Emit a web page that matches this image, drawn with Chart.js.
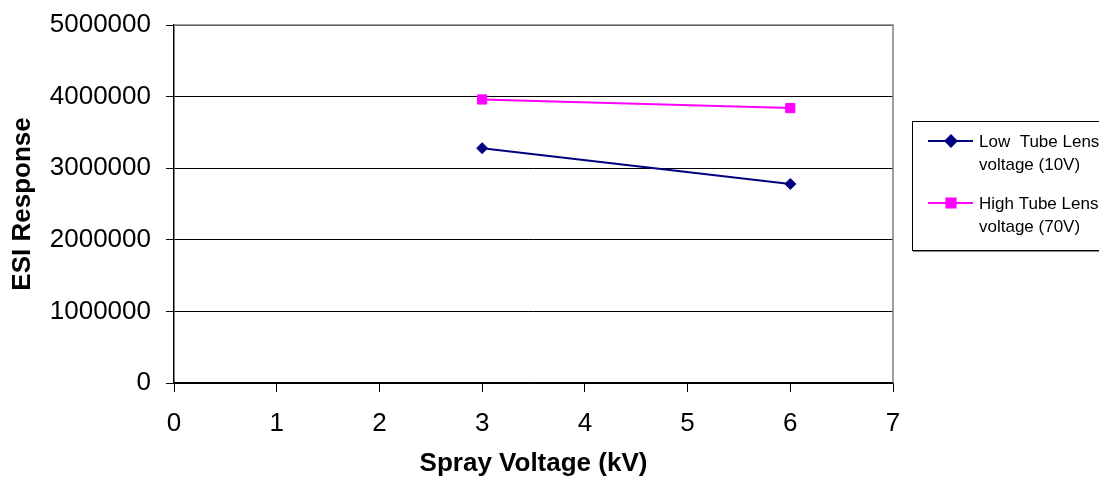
<!DOCTYPE html>
<html>
<head>
<meta charset="utf-8">
<script src="https://cdn.jsdelivr.net/npm/chart.js@4/dist/chart.umd.min.js"></script>
<style>
    html, body { margin: 0; padding: 0; background: #fff; }
    #wrap { width: 1099px; height: 485px; }
</style>
</head>
<body>
<div id="wrap"><canvas id="esiChart" width="1099" height="485"></canvas></div>
<script>
const sprayVoltage = [3, 6];
const lowTubeLens = [3280000, 2780000];
const highTubeLens = [3960000, 3840000];
const seriesLabels = [
    ['Low  Tube Lens', 'voltage (10V)'],
    ['High Tube Lens', 'voltage (70V)']
];
const xTicks = [0, 1, 2, 3, 4, 5, 6, 7];
const yTicks = [0, 1000000, 2000000, 3000000, 4000000, 5000000];

const FONT = "'Liberation Sans', Arial, sans-serif";

function toPoints(values) {
    return sprayVoltage.map((x, i) => ({ x: x, y: values[i] }));
}

// grey frame on the top and right of the plot area
const plotFrame = {
    id: 'plotFrame',
    afterDatasetsDraw(chart) {
        const { ctx, chartArea: a } = chart;
        ctx.save();
        ctx.strokeStyle = '#808080';
        ctx.lineWidth = 1.5;
        ctx.beginPath();
        ctx.moveTo(a.left, a.top);
        ctx.lineTo(a.right, a.top);
        ctx.lineTo(a.right, a.bottom);
        ctx.stroke();
        ctx.restore();
    }
};

// boxed legend on the right, two text lines per series
const sideLegend = {
    id: 'sideLegend',
    afterDraw(chart) {
        const ctx = chart.ctx;
        const box = { left: 912, top: 121, bottom: 250 };
        ctx.save();
        ctx.fillStyle = '#fff';
        ctx.fillRect(box.left, box.top, 200, box.bottom - box.top);
        ctx.strokeStyle = '#000';
        ctx.lineWidth = 1;
        ctx.strokeRect(box.left + 0.5, box.top + 0.5, 200, box.bottom - box.top);
        ctx.strokeStyle = '#888';
        ctx.beginPath();
        ctx.moveTo(box.left + 1, box.bottom + 1.5);
        ctx.lineTo(1099, box.bottom + 1.5);
        ctx.stroke();

        ctx.font = '17px ' + FONT;
        ctx.textBaseline = 'alphabetic';
        chart.data.datasets.forEach((ds, i) => {
            const y = 141 + i * 62;
            ctx.strokeStyle = ds.borderColor;
            ctx.lineWidth = 2;
            ctx.beginPath();
            ctx.moveTo(928, y);
            ctx.lineTo(973, y);
            ctx.stroke();
            Chart.helpers.drawPoint(ctx, {
                pointStyle: ds.pointStyle,
                radius: ds.pointRadius,
                borderWidth: 1
            }, 951, y);
            ctx.fillStyle = ds.borderColor;
            ctx.fill();
            ctx.fillStyle = '#000';
            seriesLabels[i].forEach((line, j) => {
                ctx.fillText(line, 979, y + 6 + j * 23);
            });
        });
        ctx.restore();
    }
};

new Chart(document.getElementById('esiChart').getContext('2d'), {
    type: 'scatter',
    data: {
        datasets: [
            {
                label: seriesLabels[0].join(' '),
                data: toPoints(lowTubeLens),
                showLine: true,
                borderColor: '#000080',
                backgroundColor: '#000080',
                borderWidth: 2,
                pointStyle: 'rectRot',
                pointRadius: 5.5,
                pointBorderWidth: 1
            },
            {
                label: seriesLabels[1].join(' '),
                data: toPoints(highTubeLens),
                showLine: true,
                borderColor: '#FF00FF',
                backgroundColor: '#FF00FF',
                borderWidth: 2,
                pointStyle: 'rect',
                pointRadius: 6.5,
                pointBorderWidth: 1
            }
        ]
    },
    options: {
        responsive: false,
        animation: false,
        layout: { padding: { top: 25, right: 206, bottom: 0, left: 0 } },
        plugins: {
            legend: { display: false },
            tooltip: { enabled: false }
        },
        scales: {
            x: {
                type: 'linear',
                min: 0,
                max: 7,
                afterFit: s => { s.height = 102; },
                afterBuildTicks: s => { s.ticks = xTicks.map(v => ({ value: v })); },
                grid: {
                    drawOnChartArea: false,
                    drawTicks: true,
                    tickLength: 9,
                    color: '#000'
                },
                border: { color: '#000', width: 1.5 },
                ticks: {
                    padding: 16,
                    color: '#000',
                    font: { family: FONT, size: 26 }
                },
                title: {
                    display: true,
                    text: 'Spray Voltage (kV)',
                    color: '#000',
                    font: { family: FONT, size: 26, weight: 'bold' },
                    padding: { top: 0, bottom: 6 }
                }
            },
            y: {
                min: 0,
                max: 5000000,
                afterFit: s => {
                    s.width = 174;
                    s.paddingTop = 0;
                    s.paddingBottom = 0;
                },
                afterBuildTicks: s => { s.ticks = yTicks.map(v => ({ value: v })); },
                grid: {
                    color: '#000',
                    lineWidth: 1,
                    tickLength: 8
                },
                border: { color: '#000', width: 1.5 },
                ticks: {
                    padding: 15,
                    color: '#000',
                    font: { family: FONT, size: 26 },
                    callback: v => String(v)
                },
                title: {
                    display: true,
                    text: 'ESI Response',
                    color: '#000',
                    font: { family: FONT, size: 26, weight: 'bold' },
                    padding: { top: 7, bottom: 0 }
                }
            }
        }
    },
    plugins: [plotFrame, sideLegend]
});
</script>
</body>
</html>
